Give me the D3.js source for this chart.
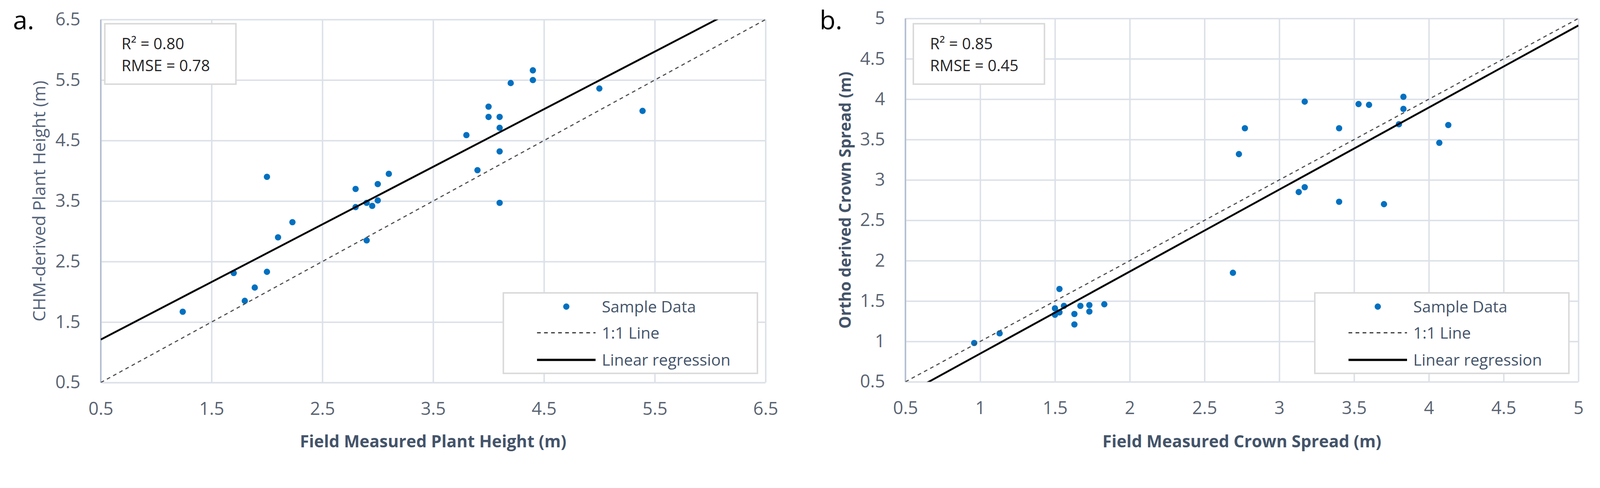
<!DOCTYPE html>
<html>
<head>
<meta charset="utf-8">
<script src="https://cdn.jsdelivr.net/npm/d3@7"></script>
<style>
  html, body { margin: 0; padding: 0; width: 100%; height: 100%; overflow: hidden; background: #fff; }
  svg { display: block; width: 100%; height: auto; font-family: 'Open Sans', sans-serif; }
</style>
</head>
<body>
<svg id="chart" viewBox="0 0 4320 1248" preserveAspectRatio="xMidYMin meet"></svg>
<script>
// Panel a: plant height, field vs CHM
const heightField = [1.24, 1.70, 1.80, 1.89, 2.00, 2.00, 2.10, 2.23, 2.80, 2.80, 2.90, 2.90, 2.95, 3.00, 3.00,
  3.10, 3.80, 3.90, 4.00, 4.00, 4.10, 4.10, 4.10, 4.10, 4.20, 4.40, 4.40, 5.00, 5.39];
const heightChm = [1.67, 2.31, 1.85, 2.07, 2.33, 3.90, 2.90, 3.15, 3.40, 3.70, 2.85, 3.47, 3.42, 3.51, 3.78,
  3.95, 4.59, 4.01, 4.89, 5.06, 3.47, 4.32, 4.71, 4.89, 5.45, 5.50, 5.66, 5.36, 4.99];
const heightTicks = [0.5, 1.5, 2.5, 3.5, 4.5, 5.5, 6.5];
const heightFit = { slope: 0.952, intercept: 0.734 };
const heightStats = ['R\u00b2 = 0.80', 'RMSE = 0.78'];

// Panel b: crown spread, field vs ortho
const crownField = [0.96, 1.13, 1.50, 1.50, 1.53, 1.53, 1.56, 1.63, 1.63, 1.67, 1.73, 1.73, 1.83, 2.69, 2.73,
  2.77, 3.13, 3.17, 3.17, 3.40, 3.40, 3.53, 3.60, 3.70, 3.80, 3.83, 3.83, 4.07, 4.13];
const crownOrtho = [0.98, 1.10, 1.33, 1.41, 1.36, 1.65, 1.44, 1.21, 1.34, 1.44, 1.37, 1.45, 1.46, 1.85, 3.32,
  3.64, 2.85, 2.91, 3.97, 2.73, 3.64, 3.94, 3.93, 2.70, 3.69, 3.88, 4.03, 3.46, 3.68];
const crownTicks = [0.5, 1, 1.5, 2, 2.5, 3, 3.5, 4, 4.5, 5];
const crownFit = { slope: 1.016, intercept: -0.167 };
const crownStats = ['R\u00b2 = 0.85', 'RMSE = 0.45'];

const legendLabels = ['Sample Data', '1:1 Line', 'Linear regression'];

const dotColor = '#0070c0';
const gridColor = '#dce1e9';
const tickColor = '#5a6472';
const titleColor = '#44546a';

let svg = d3.select('#chart');
svg.append('rect').attr('width', 4320).attr('height', 1248).attr('fill', '#fff');

function drawPanel(p) {
  let x = d3.scaleLinear().domain(p.domain).range([p.left, p.right]);
  let y = d3.scaleLinear().domain(p.domain).range([p.bottom, p.top]);
  let g = svg.append('g');

  // Gridlines.
  g.append('g')
    .attr('transform', `translate(0,${p.bottom})`)
    .call(d3.axisBottom(x).tickValues(p.ticks).tickSize(-(p.bottom - p.top)).tickFormat(''))
    .call(a => a.select('.domain').remove())
    .call(a => a.selectAll('line').attr('stroke', gridColor).attr('stroke-width', 4));
  g.append('g')
    .attr('transform', `translate(${p.left},0)`)
    .call(d3.axisLeft(y).tickValues(p.ticks).tickSize(-(p.right - p.left)).tickFormat(''))
    .call(a => a.select('.domain').remove())
    .call(a => a.selectAll('line').attr('stroke', gridColor).attr('stroke-width', 4));
  g.append('line')
    .attr('x1', p.left).attr('x2', p.left)
    .attr('y1', p.top).attr('y2', p.bottom)
    .attr('stroke', '#b3bfd0').attr('stroke-width', 4);

  // Tick labels.
  g.append('g')
    .attr('transform', `translate(${p.left},0)`)
    .call(d3.axisLeft(y).tickValues(p.ticks).tickSize(0).tickPadding(55).tickFormat(p.format))
    .call(a => a.select('.domain').remove())
    .call(a => a.selectAll('text').attr('font-size', 48).attr('fill', tickColor).attr('font-family', 'Open Sans'));
  g.append('g')
    .attr('transform', `translate(0,${p.bottom})`)
    .call(d3.axisBottom(x).tickValues(p.ticks).tickSize(0).tickPadding(53).tickFormat(p.format))
    .call(a => a.select('.domain').remove())
    .call(a => a.selectAll('text').attr('font-size', 48).attr('fill', tickColor).attr('font-family', 'Open Sans'));

  // Axis titles.
  g.append('text')
    .attr('x', (p.left + p.right) / 2).attr('y', 1207)
    .attr('text-anchor', 'middle')
    .attr('font-size', 45).attr('font-weight', 'bold').attr('fill', titleColor)
    .text(p.xTitle);
  g.append('text')
    .attr('transform', `translate(${p.yTitleX},${(p.top + p.bottom) / 2}) rotate(-90)`)
    .attr('text-anchor', 'middle')
    .attr('font-size', p.yTitleSize).attr('font-weight', p.yTitleWeight).attr('fill', p.yTitleColor)
    .text(p.yTitle);

  // Panel letter.
  g.append('text')
    .attr('x', p.letterX).attr('y', 79)
    .attr('font-size', 70).attr('fill', '#000')
    .text(p.letter);

  // Points and lines, clipped to plot area.
  let clipId = `clip-${p.letter[0]}`;
  svg.append('clipPath').attr('id', clipId)
    .append('rect')
      .attr('x', p.left).attr('y', p.top)
      .attr('width', p.right - p.left).attr('height', p.bottom - p.top);

  let plot = g.append('g').attr('clip-path', `url(#${clipId})`);

  plot.selectAll('circle')
    .data(d3.zip(p.xs, p.ys))
    .enter()
    .append('circle')
      .attr('cx', d => x(d[0]))
      .attr('cy', d => y(d[1]))
      .attr('r', 8.5)
      .attr('fill', dotColor);

  let line = d3.line().x(d => x(d[0])).y(d => y(d[1]));
  plot.append('path')
    .attr('d', line([[p.domain[0], p.domain[0]], [p.domain[1], p.domain[1]]]))
    .attr('fill', 'none').attr('stroke', '#4d4d4d').attr('stroke-width', 3)
    .attr('stroke-dasharray', '10,9');
  let fitY = v => p.fit.slope * v + p.fit.intercept;
  plot.append('path')
    .attr('d', line(p.domain.map(v => [v, fitY(v)])))
    .attr('fill', 'none').attr('stroke', '#000').attr('stroke-width', 5);

  // Stats box.
  g.append('rect')
    .attr('x', p.statsX).attr('y', 64)
    .attr('width', 354).attr('height', 163)
    .attr('fill', '#fff').attr('stroke', '#d9d9d9').attr('stroke-width', 4);
  g.selectAll('text.stat')
    .data(p.stats)
    .enter()
    .append('text')
      .attr('class', 'stat')
      .attr('x', p.statsX + 45)
      .attr('y', (d, i) => 133 + i * 58.5)
      .attr('font-size', 42).attr('fill', '#262626')
      .text(d => d);

  // Legend.
  let lg = g.append('g').attr('transform', `translate(${p.legendX},790)`);
  lg.append('rect')
    .attr('width', 686).attr('height', 217)
    .attr('fill', '#fff').attr('stroke', '#d9d9d9').attr('stroke-width', 4);
  let rows = [37, 107.5, 180.7];
  lg.append('circle').attr('cx', 170).attr('cy', rows[0]).attr('r', 8.5).attr('fill', dotColor);
  lg.append('line')
    .attr('x1', 91).attr('x2', 249).attr('y1', rows[1]).attr('y2', rows[1])
    .attr('stroke', '#333').attr('stroke-width', 3).attr('stroke-dasharray', '10,9');
  lg.append('line')
    .attr('x1', 91).attr('x2', 249).attr('y1', rows[2]).attr('y2', rows[2])
    .attr('stroke', '#000').attr('stroke-width', 6);
  lg.selectAll('text')
    .data(legendLabels)
    .enter()
    .append('text')
      .attr('x', 266)
      .attr('y', (d, i) => rows[i])
      .attr('dy', '0.36em')
      .attr('font-size', 43).attr('fill', titleColor)
      .text(d => d);
}

drawPanel({
  letter: 'a.', letterX: 35,
  domain: [0.5, 6.5], ticks: heightTicks, format: d3.format('.1f'),
  left: 272, right: 2067, top: 52.7, bottom: 1031.8,
  xs: heightField, ys: heightChm, fit: heightFit, stats: heightStats,
  xTitle: 'Field Measured Plant Height (m)',
  yTitle: 'CHM-derived Plant Height (m)', yTitleX: 122, yTitleSize: 47,
  yTitleWeight: 'normal', yTitleColor: '#55637a',
  statsX: 283, legendX: 1359
});

drawPanel({
  letter: 'b.', letterX: 2213,
  domain: [0.5, 5], ticks: crownTicks, format: d3.format('~g'),
  left: 2444.6, right: 4261.7, top: 49.8, bottom: 1029.8,
  xs: crownField, ys: crownOrtho, fit: crownFit, stats: crownStats,
  xTitle: 'Field Measured Crown Spread (m)',
  yTitle: 'Ortho derived Crown Spread (m)', yTitleX: 2297, yTitleSize: 43,
  yTitleWeight: 'bold', yTitleColor: titleColor,
  statsX: 2466, legendX: 3550
});
</script>
</body>
</html>
